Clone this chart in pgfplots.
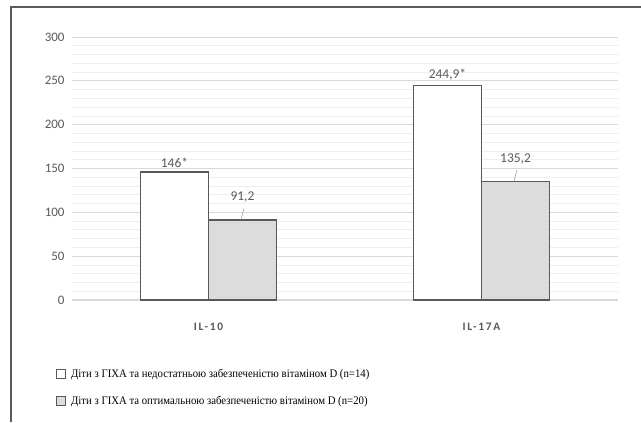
\documentclass[border=0pt]{standalone}
\usepackage{pgfplots}
\pgfplotsset{compat=1.18}
\usepackage{pgfplotstable}
\usepackage{fontspec}
\usepackage{graphicx}
\setmainfont{Liberation Serif}
\newfontfamily\legfont[FakeStretch=0.93]{Liberation Serif}
\newfontfamily\calib{Carlito}
\newfontfamily\catfont[LetterSpace=15]{Carlito}
\definecolor{tickc}{HTML}{595959}
\definecolor{gridc}{HTML}{D9D9D9}
\definecolor{mgridc}{HTML}{EFEFEF}
\definecolor{barE}{HTML}{595959}
\definecolor{barG}{HTML}{DCDCDC}
\definecolor{framec}{HTML}{5A5A5A}
\definecolor{leader}{HTML}{A6A6A6}

\pgfplotstableread{
x y lab
0 146 146*
1 244.9 244,9*
}\wbars
\pgfplotstableread{
x y lab
0 91.2 91,2
1 135.2 135,2
}\gbars

\begin{document}
\begin{tikzpicture}[x=1bp,y=1bp]
\useasboundingbox (0,0) rectangle (641,422);
\draw[framec, line width=2bp] (10.5,0) -- (10.5,414.5) -- (641,414.5);
\begin{axis}[
  at={(72bp,122bp)}, anchor=south west,
  scale only axis, width=546bp, height=263bp,
  xmin=-0.5, xmax=1.5, ymin=0, ymax=300,
  ybar=0pt, bar width=68bp,
  axis x line*=bottom, axis y line*=left,
  x axis line style={draw=gridc, line width=1.5bp},
  y axis line style={draw=none},
  xtick={0,1}, xticklabels={IL-10, IL-17A},
  ytick={0,50,...,300},
  minor y tick num=4,
  major tick length=0pt, minor tick length=0pt,
  ymajorgrids, yminorgrids,
  major grid style={draw=gridc, line width=0.8bp},
  minor grid style={draw=mgridc, line width=0.8bp},
  /pgf/number format/assume math mode=true,
  yticklabel style={font=\calib\fontsize{13}{13}\selectfont, text=tickc, anchor=east, xshift=-4bp},
  xticklabel style={font=\catfont\bfseries\fontsize{11.5}{11.5}\selectfont, text=tickc, anchor=center, yshift=-27bp},
  point meta=explicit symbolic,
  legend style={at={(-16/546,-67/263)}, anchor=north west, draw=none, fill=none,
    font=\legfont\fontsize{11.6}{11.6}\selectfont, inner sep=0pt,
    nodes={inner sep=2bp}, row sep=13.5bp, cells={anchor=west}},
  legend image code/.code={\draw[#1, line width=0.9bp] (0bp,-4.5bp) rectangle (9bp,4.5bp);\path[draw=none,fill=none] (0bp,0bp) -- (12.5bp,0bp);},
]
\addplot[draw=barE, fill=white, line width=1.3bp,
  nodes near coords, nodes near coords align={vertical},
  every node near coord/.append style={font=\calib\fontsize{13.5}{13.5}\selectfont, text=tickc, inner sep=4bp}]
  table[x=x, y=y, meta=lab] {\wbars};
\addplot[draw=barE, fill=barG, line width=1.3bp,
  nodes near coords={\shortstack{\pgfplotspointmeta\\[3bp]\rotatebox{-15}{\textcolor{leader}{\rule{0.7bp}{11bp}}}}},
  every node near coord/.append style={font=\calib\fontsize{13.5}{13.5}\selectfont, text=tickc, inner sep=0pt, anchor=south}]
  table[x=x, y=y, meta=lab] {\gbars};
\legend{Діти з ГІХА та недостатньою забезпеченістю вітаміном D (n=14), Діти з ГІХА та оптимальною забезпеченістю вітаміном D (n=20)}
\end{axis}
\end{tikzpicture}
\end{document}
